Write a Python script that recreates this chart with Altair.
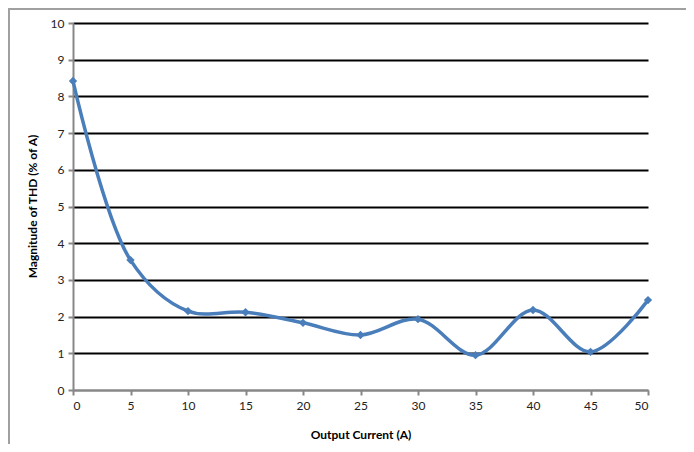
import altair as alt
import pandas as pd

current = [0, 5, 10, 15, 20, 25, 30, 35, 40, 45, 50]
thd = [8.42, 3.54, 2.15, 2.12, 1.83, 1.50, 1.93, 0.95, 2.18, 1.04, 2.45]
x_ticks = [0, 5, 10, 15, 20, 25, 30, 35, 40, 45, 50]
y_ticks = [0, 1, 2, 3, 4, 5, 6, 7, 8, 9, 10]

df = pd.DataFrame({"current": current, "thd": thd})

FONT = "Lato"
BLUE = "#4A7EBB"
GRAY = "#878787"

x_enc = alt.X(
    "current:Q",
    scale=alt.Scale(domain=[0, 50], nice=False, zero=False),
    axis=alt.Axis(
        values=x_ticks, title="Output Current (A)", grid=False,
        domainColor=GRAY, domainWidth=2, tickColor=GRAY, tickWidth=2, tickSize=5,
        labelPadding=5, labelFontSize=12, labelColor="#222222", labelFont=FONT,
        labelOverlap=False,
        titleFont=FONT, titleFontSize=12, titleFontWeight="bold", titleColor="black",
        titleBaseline="middle", titleY=44,
    ),
)
y_enc = alt.Y(
    "thd:Q",
    scale=alt.Scale(domain=[0, 10], nice=False),
    axis=alt.Axis(
        values=y_ticks, title="Magnitude of THD (% of A)", grid=True,
        gridColor={"condition": {"test": "datum.value === 0", "value": GRAY}, "value": "black"},
        gridWidth=2, labelOverlap=False,
        domainColor=GRAY, domainWidth=2, tickColor=GRAY, tickWidth=2, tickSize=5,
        labelPadding=4, labelFontSize=12, labelColor="#222222", labelFont=FONT,
        titleFont=FONT, titleFontSize=12, titleFontWeight="bold", titleColor="black",
        titleX=-34, titleY=183, titleAlign="center", titleBaseline="bottom", titleAngle=-90,
    ),
)

line = alt.Chart(df).mark_line(
    color=BLUE, strokeWidth=3.5, interpolate="catmull-rom"
).encode(x=x_enc, y=y_enc)

pts = alt.Chart(df).mark_point(
    shape="diamond", filled=True, color=BLUE, size=70, opacity=1
).encode(x=x_enc, y=y_enc)

frame = alt.Chart(df.head(1)).mark_rect(
    fill="transparent", stroke="#a0a0a0", strokeWidth=2
).encode(
    x=alt.value(-64), x2=alt.value(700), y=alt.value(-14), y2=alt.value(500)
)

chart = alt.layer(frame, line, pts).properties(
    width=575, height=367,
    autosize=alt.AutoSizeParams(type="none"),
    padding={"left": 65, "top": 15, "right": 38, "bottom": 54},
).configure(background="white").configure_view(strokeWidth=0, strokeOpacity=0)

chart.save("out.html", embed_options={"renderer": "svg", "actions": False})
